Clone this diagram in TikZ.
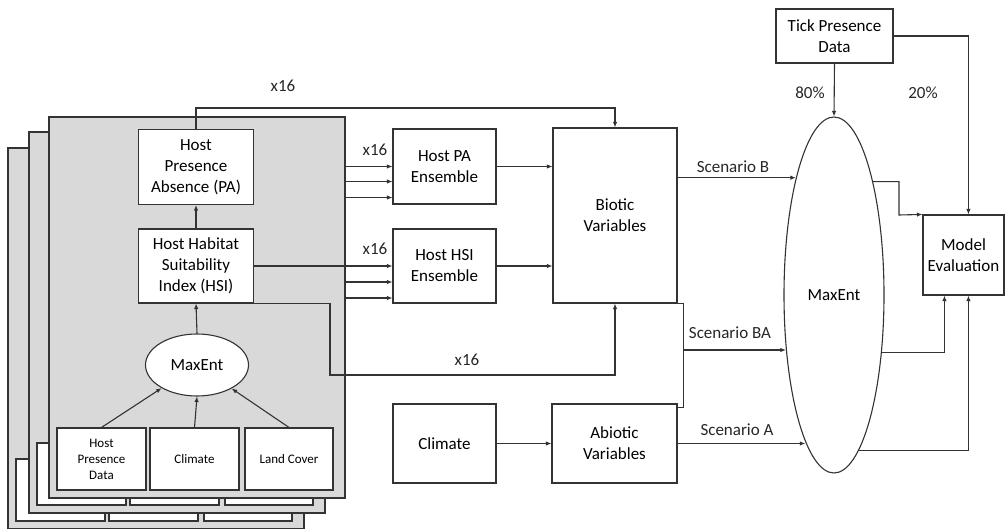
\documentclass[tikz,border=0pt]{standalone}
\usepackage{fontspec}
\setmainfont{Carlito}
\usetikzlibrary{arrows.meta,shapes.geometric}

\begin{document}
\begin{tikzpicture}[
  x=1pt, y=-1pt,
  line width=1.1pt, draw=black!80,
  box/.style={draw=black!80, fill=white, inner sep=0pt, align=center,
              font=\fontsize{17}{21}\selectfont},
  smallbox/.style={box, font=\fontsize{13}{16}\selectfont,
                   minimum width=89pt, minimum height=62pt},
  oval/.style={box, ellipse},
  pagebg/.style={draw=black!80, fill=gray!30},
  arrow/.style={-{Latex[length=5.5pt,width=4.5pt]}, draw=black!80},
  lab/.style={font=\fontsize{17}{21}\selectfont, text=black!85},
  ]
\useasboundingbox (0,0) rectangle (1006,529);

% ---- Stacked pages (16 host species) ----------------------------------------
\foreach \dx/\dy in {-41/31, -20/15} {
  \filldraw[pagebg] (49+\dx,117+\dy) rectangle (345+\dx,498+\dy);
  \filldraw[draw=black!80, fill=white] (57+\dx,428+\dy) rectangle (146+\dx,490+\dy);
  \filldraw[draw=black!80, fill=white] (150+\dx,428+\dy) rectangle (239+\dx,490+\dy);
  \filldraw[draw=black!80, fill=white] (245+\dx,428+\dy) rectangle (333+\dx,490+\dy);
}
\filldraw[pagebg] (49,117) rectangle (345,498);
\coordinate (pgedge) at (345,0);

% ---- Host model (front page) ------------------------------------------------
\node[box, minimum width=115pt, minimum height=75pt] (pa) at (196,167)
  {Host\\Presence\\Absence (PA)};
\node[box, minimum width=115pt, minimum height=74pt] (hsi) at (196,266)
  {Host Habitat\\Suitability\\Index (HSI)};
\node[oval, minimum width=103pt, minimum height=62pt] (mxa) at (197,365) {MaxEnt};
\node[smallbox] (hpd) at (101.5,459) {Host\\Presence\\Data};
\node[smallbox] (clima) at (194.5,459) {Climate};
\node[smallbox, minimum width=88pt] (land) at (289,459) {Land Cover};

\draw[arrow] (hpd.north) -- (mxa);
\draw[arrow] (clima.north) -- (mxa.south);
\draw[arrow] (land.north) -- (mxa);
\draw[arrow] (mxa.north) -- (hsi.south);
\draw[arrow] (hsi.north) -- (pa.south);

% ---- Ensembles and biotic variables -----------------------------------------
\node[box, minimum width=103pt, minimum height=75pt] (hpae) at (444.5,166.5)
  {Host PA\\Ensemble};
\node[box, minimum width=103pt, minimum height=74pt] (hhsie) at (444.5,266)
  {Host HSI\\Ensemble};
\node[box, minimum width=124pt, minimum height=175pt] (bio) at (615,215.5)
  {Biotic\\Variables};

\foreach \dy in {0,15,31} {
  \coordinate (t) at ([yshift=-\dy pt]hpae.west);
  \draw[arrow] (t -| pgedge) -- (t);
}
\draw[arrow] (hsi.east) -- (hhsie.west);
\foreach \dy in {16,32} {
  \coordinate (t) at ([yshift=-\dy pt]hhsie.west);
  \draw[arrow] (t -| pgedge) -- (t);
}
\node[lab] (x16a) at (375,150) {x16};
\node[lab] (x16b) at (375,249) {x16};

\coordinate (top) at (400,108);
\draw[arrow] (pa.north) |- (top) -| (bio.north);
\node[lab] (x16c) at (283,86) {x16};

\coordinate (low) at (330,375);
\draw[arrow] (hsi.south east) -| (low) -| (bio.south);
\node[lab] (x16d) at (467,360) {x16};

\draw[arrow] (hpae.east) -- (hpae.east -| bio.west);
\draw[arrow] (hhsie.east) -- (hhsie.east -| bio.west);

% ---- Abiotic variables ------------------------------------------------------
\node[box, minimum width=103pt, minimum height=79pt] (clim) at (444.5,443.5) {Climate};
\node[box, minimum width=125pt, minimum height=79pt] (abio) at (614.5,443.5)
  {Abiotic\\Variables};
\draw[arrow] (clim.east) -- (abio.west);

% ---- Tick model -------------------------------------------------------------
\node[oval, minimum width=100pt, minimum height=356pt] (maxent) at (834,295) {MaxEnt};
\node[box, minimum width=117pt, minimum height=54pt] (tick) at (834.5,36)
  {Tick Presence\\Data};
\node[box, minimum width=81pt, minimum height=80pt] (eval) at (963.5,255)
  {Model\\Evaluation};

\draw[arrow] (tick.south) -- (maxent.north);
\node[lab] (p80) at (810,93) {80\%};
\draw[arrow] (tick.east) -| ([xshift=46pt]eval.north west);
\node[lab] (p20) at (923,93) {20\%};

% ---- Scenarios --------------------------------------------------------------
\draw[arrow] (bio.east |- maxent.108.5) -- (maxent.108.5);
\node[lab] (scb) at (733,167) {Scenario B};

\draw (bio.south east) -- ++(6,0) |- ([yshift=-4pt]abio.north east);
\coordinate (ba) at (683,350);
\draw[arrow] (ba) -- (ba -| maxent.229.7);
\node[lab] (scba) at (730,333) {Scenario BA};

\draw[arrow] (abio.east) -- (abio.east -| maxent.259.6);
\node[lab] (sca) at (737,430) {Scenario A};

% ---- Evaluation links -------------------------------------------------------
\coordinate (e1) at (899,215);
\draw[arrow] (maxent.71.6) -| (e1) -- (eval.north west);
\draw[arrow] (maxent.310.9) -| ([xshift=22pt]eval.south west);
\draw[arrow] (maxent.279.5) -| ([xshift=46pt]eval.south west);

\end{tikzpicture}
\end{document}
